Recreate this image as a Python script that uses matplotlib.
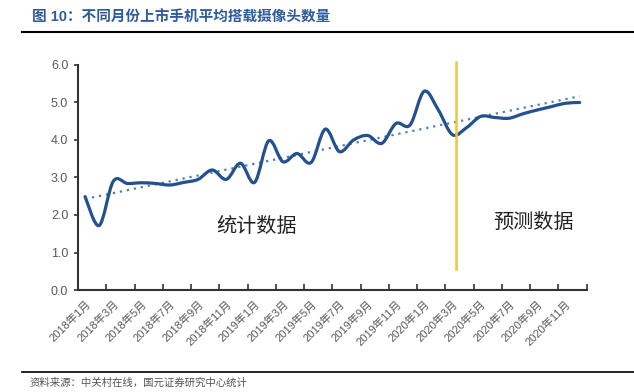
import numpy as np
import matplotlib
matplotlib.use("Agg")
import matplotlib.pyplot as plt
from matplotlib.path import Path
from matplotlib.patches import PathPatch

plt.rcParams['font.family'] = ['Liberation Sans', 'Noto Sans CJK SC', 'DejaVu Sans']

# ---- data ----
months = [f"{y}年{m}月" for y in (2018, 2019, 2020) for m in range(1, 13)]
camera_counts = [2.49, 1.72, 2.90, 2.84, 2.86, 2.84, 2.80, 2.87, 2.95, 3.20,
                 2.95, 3.38, 2.87, 3.98, 3.42, 3.64, 3.40, 4.29, 3.69, 4.00,
                 4.12, 3.91, 4.44, 4.40, 5.30, 4.80, 4.14, 4.33, 4.63, 4.60,
                 4.58, 4.70, 4.80, 4.89, 4.98, 5.00]
title = "图 10：不同月份上市手机平均搭载摄像头数量"
source = "资料来源：中关村在线，国元证券研究中心统计"
label_hist = "统计数据"
label_pred = "预测数据"
y_ticks = [0.0, 1.0, 2.0, 3.0, 4.0, 5.0, 6.0]

fig = plt.figure(figsize=(6.34, 3.92), dpi=100)
fig.patch.set_facecolor('white')
ax = fig.add_axes([0.123, 0.2602, 0.8024, 0.574])

x = np.arange(len(camera_counts))
y = np.array(camera_counts)

# smoothed line (Excel-style Catmull-Rom bezier through the data points)
verts = [(x[0], y[0])]
codes = [Path.MOVETO]
n = len(x)
for i in range(n - 1):
    p0 = np.array([x[max(i - 1, 0)], y[max(i - 1, 0)]])
    p1 = np.array([x[i], y[i]])
    p2 = np.array([x[i + 1], y[i + 1]])
    p3 = np.array([x[min(i + 2, n - 1)], y[min(i + 2, n - 1)]])
    c1 = p1 + (p2 - p0) / 6.0
    c2 = p2 - (p3 - p1) / 6.0
    verts += [tuple(c1), tuple(c2), tuple(p2)]
    codes += [Path.CURVE4] * 3
patch = PathPatch(Path(verts, codes), facecolor='none', edgecolor='#23508e',
                  lw=2.3, capstyle='round', joinstyle='round', zorder=3)
ax.add_patch(patch)

# linear trend line
coef = np.polyfit(x, y, 1)
ax.plot(x, np.polyval(coef, x), linestyle=(0, (1, 2.2)), color='#4a7ebb',
        lw=1.6, zorder=2)

# vertical divider
ax.plot([26.25, 26.25], [0.55, 6.08], color='#ecc73a', lw=1.8, clip_on=False, zorder=4)

ax.set_xlim(-0.5, len(x) - 0.5)
ax.set_ylim(0, 6)
ax.set_yticks(y_ticks)
ax.set_yticklabels([f"{v:.1f}" for v in y_ticks], color='#595959', fontsize=9)
ax.set_xticks(np.arange(-0.5, len(x), 2))
ax.set_xticklabels([])
ax.set_xticks(x[::2], minor=True)
ax.set_xticklabels(months[::2], minor=True, rotation=45, ha='right', va='top',
                   rotation_mode='anchor', color='#595959', fontsize=8)
ax.tick_params(axis='x', which='major', direction='in', length=4, width=1.2, color='#333333')
ax.tick_params(axis='x', which='minor', length=0, pad=6)
ax.tick_params(axis='y', direction='out', length=3, width=1.2, color='#333333', pad=4)
for s in ('top', 'right'):
    ax.spines[s].set_visible(False)
for s in ('left', 'bottom'):
    ax.spines[s].set_color('#333333')
    ax.spines[s].set_linewidth(1.5)

ax.text(9.3, 1.69, label_hist, fontsize=14.5, color='#222222', va='center', ha='left')
ax.text(28.85, 1.81, label_pred, fontsize=14.5, color='#222222', va='center', ha='left')

fig.text(32 / 634, 1 - 18 / 392, title, fontsize=10.5, fontweight='bold',
         color='#2f5a9c', va='center', ha='left')
fig.add_artist(plt.Line2D([22 / 634, 1.0], [1 - 32 / 392] * 2, color='black', lw=1.5))
fig.add_artist(plt.Line2D([22 / 634, 1.0], [1 - 372 / 392] * 2, color='black', lw=1.2))
fig.text(30 / 634, 1 - 383 / 392, source, fontsize=7.5, color='#555555', va='center', ha='left')

fig.savefig('out.png', dpi=100, facecolor='white')
